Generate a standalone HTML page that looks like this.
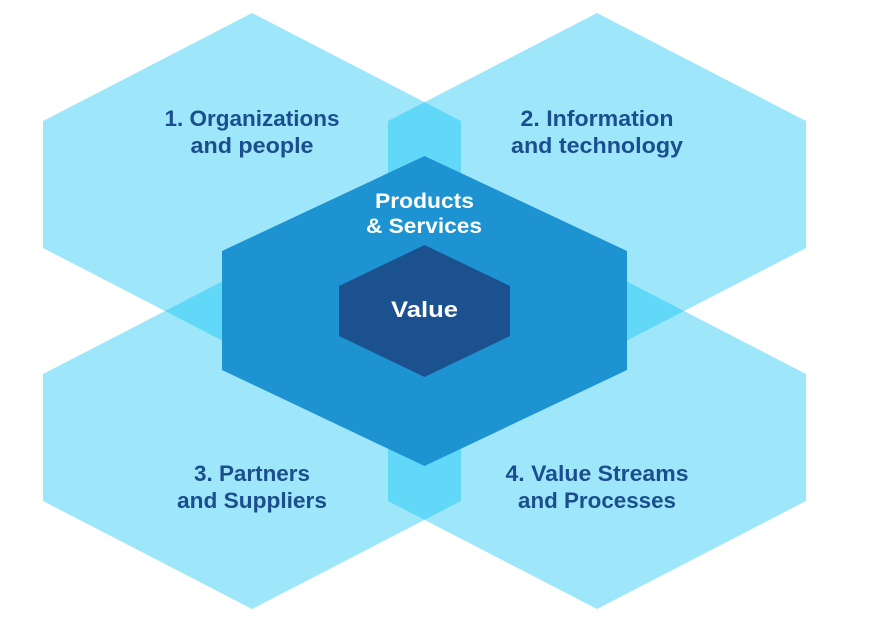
<!DOCTYPE html>
<html>
<head>
<meta charset="utf-8">
<style>
html,body{margin:0;padding:0;background:#fff;}
svg{display:block;}
text{font-family:"Liberation Sans",Arial,sans-serif;font-weight:bold;}
</style>
</head>
<body>
<svg width="883" height="625" viewBox="0 0 883 625" xmlns="http://www.w3.org/2000/svg">
  <g fill="#00C1F4" fill-opacity="0.38">
    <polygon points="252,13 461,121 461,248 252,356 43,248 43,121"/>
    <polygon points="597,13 806,121 806,248 597,356 388,248 388,121"/>
    <polygon points="252,266 461,374 461,501 252,609 43,501 43,374"/>
    <polygon points="597,266 806,374 806,501 597,609 388,501 388,374"/>
  </g>
  <polygon fill="#1E93D1" points="424.5,156 627,251 627,370 424.5,466 222,370 222,251"/>
  <polygon fill="#1C5190" points="424.5,245 510,286 510,336 424.5,377 339,336 339,286"/>

  <g fill="#1B4E8E" font-size="22" text-anchor="middle">
    <text x="252" y="126" textLength="175" lengthAdjust="spacingAndGlyphs">1. Organizations</text>
    <text x="252" y="153" textLength="123" lengthAdjust="spacingAndGlyphs">and people</text>
    <text x="597" y="126" textLength="153" lengthAdjust="spacingAndGlyphs">2. Information</text>
    <text x="597" y="153" textLength="172" lengthAdjust="spacingAndGlyphs">and technology</text>
    <text x="252" y="481" textLength="116" lengthAdjust="spacingAndGlyphs">3. Partners</text>
    <text x="252" y="508" textLength="150" lengthAdjust="spacingAndGlyphs">and Suppliers</text>
    <text x="597" y="481" textLength="183" lengthAdjust="spacingAndGlyphs">4. Value Streams</text>
    <text x="597" y="508" textLength="158" lengthAdjust="spacingAndGlyphs">and Processes</text>
  </g>
  <g fill="#FFFFFF" text-anchor="middle">
    <text x="424.5" y="208" font-size="21" textLength="99" lengthAdjust="spacingAndGlyphs">Products</text>
    <text x="424" y="233" font-size="21" textLength="116" lengthAdjust="spacingAndGlyphs">&amp; Services</text>
    <text x="424.5" y="317" font-size="22" textLength="67" lengthAdjust="spacingAndGlyphs">Value</text>
  </g>
</svg>
</body>
</html>
